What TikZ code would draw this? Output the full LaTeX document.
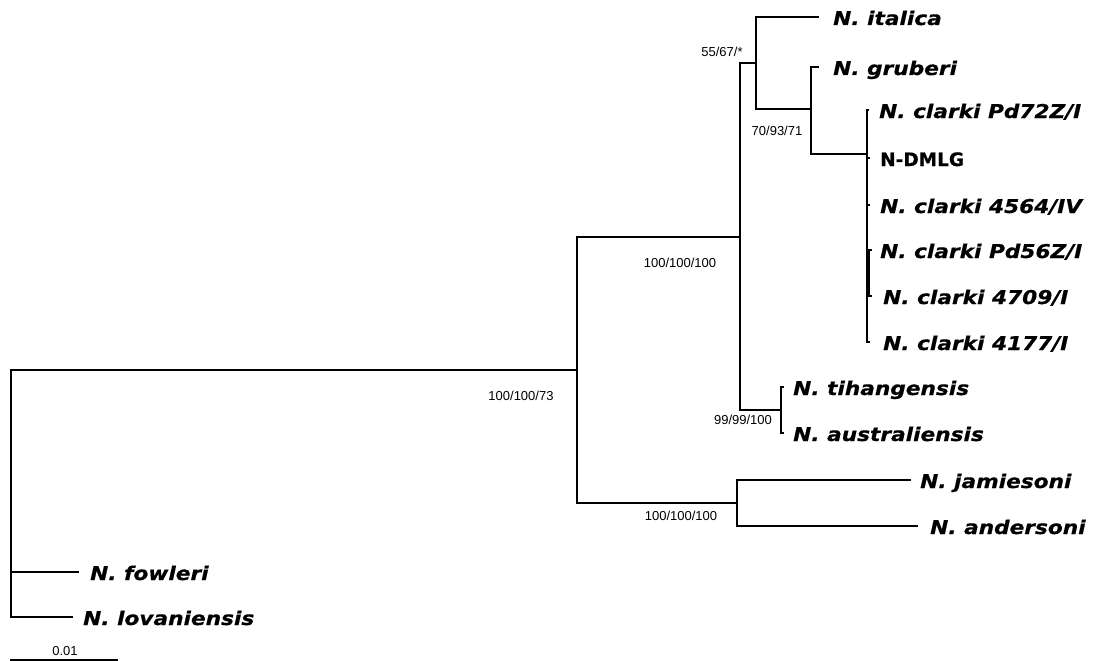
\documentclass[tikz,border=0pt]{standalone}
\usepackage{fontspec}
\setmainfont{Liberation Sans}
\newfontfamily\taxfont[FakeStretch=1.14, FakeBold=0.6]{DejaVu Sans}
\newfontfamily\strainfont[FakeBold=0.6]{DejaVu Sans}
\usetikzlibrary{positioning}

\begin{document}
\begin{tikzpicture}[x=1pt, y=-1pt,
    branch/.style={line width=1.4pt, line cap=rect},
    taxon/.style={anchor=base west, inner sep=0pt, yshift=-8pt, font=\taxfont\fontsize{19}{21}\selectfont\bfseries\itshape},
    strain/.style={anchor=base west, inner sep=0pt, yshift=-8pt, font=\strainfont\fontsize{18.5}{21}\selectfont\bfseries},
    support/.style={inner sep=0pt, font=\fontsize{13}{13}\selectfont}
]
    \useasboundingbox (0,0) rectangle (1093,661);

    % Internal nodes
    \coordinate (root) at (11,370);
    \coordinate (nA) at (577,370);
    \coordinate (nB) at (740,237);
    \coordinate (nC) at (756,63);
    \coordinate (nD) at (811,109);
    \coordinate (nE) at (867,154);
    \coordinate (nE2) at (869,273);
    \coordinate (nT) at (781,410);
    \coordinate (nF) at (737,503);

    % Tips
    \coordinate (t-ita) at (818,17);
    \coordinate (t-gru) at (818,67);
    \coordinate (t-pd72) at (868,110);
    \coordinate (t-dmlg) at (869,158);
    \coordinate (t-4564) at (869,205);
    \coordinate (t-pd56) at (871,250);
    \coordinate (t-4709) at (871,296);
    \coordinate (t-4177) at (869,342);
    \coordinate (t-tih) at (783,387);
    \coordinate (t-aus) at (783,433);
    \coordinate (t-jam) at (910,480);
    \coordinate (t-and) at (917,526);
    \coordinate (t-fow) at (78,572);
    \coordinate (t-lov) at (72,617);

    % Branches
    \draw[branch] (root) -- (nA);
    \draw[branch] (root) |- (t-fow);
    \draw[branch] (root) |- (t-lov);
    \draw[branch] (nA) |- (nB);
    \draw[branch] (nA) |- (nF);
    \draw[branch] (nB) |- (nC);
    \draw[branch] (nB) |- (nT);
    \draw[branch] (nC) |- (t-ita);
    \draw[branch] (nC) |- (nD);
    \draw[branch] (nD) |- (t-gru);
    \draw[branch] (nD) |- (nE);
    \draw[branch] (nE) |- (t-pd72);
    \draw[branch] (nE) |- (t-dmlg);
    \draw[branch] (nE) |- (t-4564);
    \draw[branch] (nE) |- (nE2);
    \draw[branch] (nE2) |- (t-pd56);
    \draw[branch] (nE2) |- (t-4709);
    \draw[branch] (nE) |- (t-4177);
    \draw[branch] (nT) |- (t-tih);
    \draw[branch] (nT) |- (t-aus);
    \draw[branch] (nF) |- (t-jam);
    \draw[branch] (nF) |- (t-and);

    % Taxon labels
    \node[taxon, xshift=15pt] (ita) at (t-ita) {N. italica};
    \node[taxon, xshift=15pt] (gru) at (t-gru) {N. gruberi};
    \node[taxon, xshift=11pt] (pd72) at (t-pd72) {N. clarki Pd72Z/I};
    \node[strain, xshift=11pt] (dmlg) at (t-dmlg) {N-DMLG};
    \node[taxon, xshift=11pt] (c4564) at (t-4564) {N. clarki 4564/IV};
    \node[taxon, xshift=9pt] (pd56) at (t-pd56) {N. clarki Pd56Z/I};
    \node[taxon, xshift=12pt] (c4709) at (t-4709) {N. clarki 4709/I};
    \node[taxon, xshift=14pt] (c4177) at (t-4177) {N. clarki 4177/I};
    \node[taxon, xshift=10pt] (tih) at (t-tih) {N. tihangensis};
    \node[taxon, xshift=10pt] (aus) at (t-aus) {N. australiensis};
    \node[taxon, xshift=10pt] (jam) at (t-jam) {N. jamiesoni};
    \node[taxon, xshift=13pt] (and) at (t-and) {N. andersoni};
    \node[taxon, xshift=12pt] (fow) at (t-fow) {N. fowleri};
    \node[taxon, xshift=11pt] (lov) at (t-lov) {N. lovaniensis};

    % Support values
    \node[support] (sC) at (722,52) {55/67/*};
    \node[support] (sD) at (777,131) {70/93/71};
    \node[support] (sB) at (680,263) {100/100/100};
    \node[support] (sA) at (521,396) {100/100/73};
    \node[support] (sT) at (743,420) {99/99/100};
    \node[support] (sF) at (681,516) {100/100/100};

    % Scale bar
    \coordinate (bar-l) at (11,660);
    \coordinate (bar-r) at (117,660);
    \draw[branch] (bar-l) -- (bar-r);
    \node[support] (bar) at (65,651) {0.01};
\end{tikzpicture}
\end{document}
